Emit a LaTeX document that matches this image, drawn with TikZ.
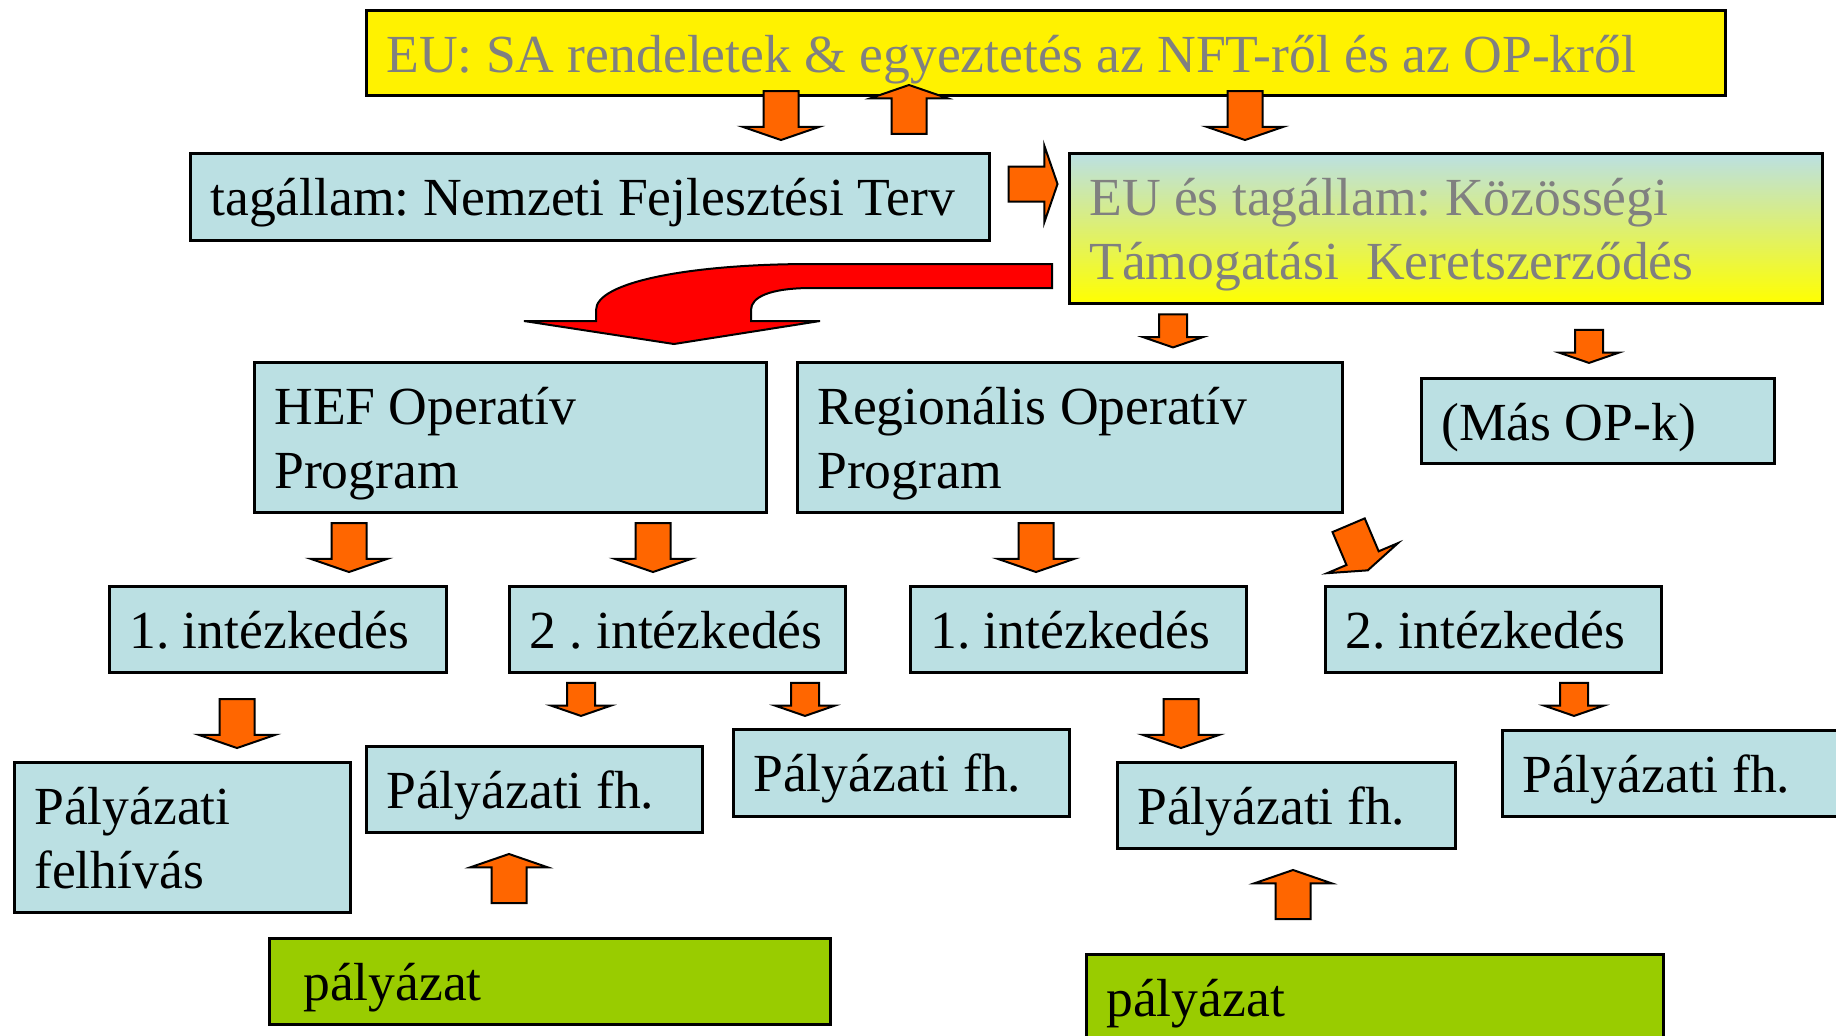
\documentclass[tikz,border=0pt]{standalone}
\usepackage{fontspec}
\setmainfont{Liberation Serif}
\usetikzlibrary{shapes.arrows}

\definecolor{boxblue}{HTML}{BBE0E3}
\definecolor{arrorange}{HTML}{FF6600}
\definecolor{palgreen}{HTML}{99CC00}
\definecolor{eugray}{HTML}{808080}

\tikzset{
	box/.style={draw, line width=1.3pt, fill=boxblue, anchor=north west,
		inner xsep=10pt, inner ysep=0pt, align=flush left, text height=31.25pt,
		font=\fontsize{26.8}{32}\selectfont\frenchspacing},
	bigarr/.style={single arrow, draw, line width=1pt, fill=arrorange,
		inner xsep=0pt, inner ysep=8.25pt,
		minimum height=24.5pt, single arrow head extend=10.5pt,
		single arrow tip angle=142},
	smallarr/.style={bigarr, inner ysep=6.5pt, minimum height=16.5pt,
		single arrow head extend=8pt},
	down/.style={rotate=-90},
	up/.style={rotate=90}
}

\begin{document}
\begin{tikzpicture}[x=0.5pt,y=-0.5pt]
	\useasboundingbox (0,0) rectangle (1836,1035);
	\clip (0,0) rectangle (1836,1035);

	\node[box, fill=yellow, text=eugray, text width=659.5pt, text depth=11.25pt] (eu) at (365,9)
		{EU: SA rendeletek \& egyeztetés az NFT-ről és az OP-kről};
	\node[box, text width=379.5pt, text depth=12.25pt] (nft) at (189,152)
		{tagállam: Nemzeti Fejlesztési Terv};
	\node[box, top color=boxblue, bottom color=yellow, text=eugray, text width=356.5pt, text depth=43.75pt] (kts) at (1068,152)
		{EU és tagállam: Közösségi\\Támogatási\ \ Keretszerződés};
	\node[box, text width=236pt, text depth=43.75pt] (hef) at (253,361) {HEF Operatív\\Program};
	\node[box, text width=252.5pt, text depth=43.75pt] (rop) at (796,361) {Regionális Operatív\\Program};
	\node[box, text width=156.5pt, text depth=11.25pt] (masop) at (1420,377) {(Más OP-k)};

	\node[box, text width=148.5pt, text depth=11.75pt] (int1) at (108,585) {1. intézkedés};
	\node[box, text width=148pt, text depth=11.75pt] (int2) at (508,585) {2 . intézkedés};
	\node[box, text width=148pt, text depth=11.75pt] (int3) at (909,585) {1. intézkedés};
	\node[box, text width=148pt, text depth=11.75pt] (int4) at (1324,585) {2. intézkedés};

	\node[box, text width=148pt, text depth=43.75pt] (pf) at (13,761) {Pályázati\\felhívás};
	\node[box, text width=148pt, text depth=11.75pt] (pfh1) at (365,745) {Pályázati fh.};
	\node[box, text width=148pt, text depth=12.25pt] (pfh2) at (732,728) {Pályázati fh.};
	\node[box, text width=149pt, text depth=11.75pt] (pfh3) at (1116,761) {Pályázati fh.};
	\node[box, text width=148pt, text depth=11.75pt] (pfh4) at (1501,729) {Pályázati fh.};

	\node[box, fill=palgreen, inner xsep=17pt, text width=246.5pt, text depth=11.75pt] (pal1) at (268,937) {pályázat};
	\node[box, fill=palgreen, text width=268.5pt, text depth=13.75pt] (pal2) at (1085,953) {pályázat};

	\node[bigarr, down] (a1) at (781,112.5) {};
	\node[bigarr, up] (a2) at (909,112.5) {};
	\node[bigarr, down] (a3) at (1245,112.5) {};
	\node[bigarr] (a4) at (1030,184) {};
	\node[smallarr, down] (a5) at (1173,328.5) {};
	\node[smallarr, down] (a6) at (1589,344) {};
	\node[bigarr, down] (a7) at (349,544.5) {};
	\node[bigarr, down] (a8) at (653,544.5) {};
	\node[bigarr, down] (a9) at (1036,544.5) {};
	\node[bigarr, rotate=-67] (a10) at (1357,545) {};
	\node[bigarr, down] (a11) at (237,720.5) {};
	\node[smallarr, down] (a12) at (581,697) {};
	\node[smallarr, down] (a13) at (805,697) {};
	\node[bigarr, down] (a14) at (1181,720.5) {};
	\node[smallarr, down] (a15) at (1574,697) {};
	\node[bigarr, up] (a16) at (509,881.5) {};
	\node[bigarr, up] (a17) at (1293,897.5) {};

	\draw[line width=1pt, fill=red] (1052,264) -- (812,264)
		.. controls (690,264) and (596,282) .. (596,310) -- (596,321) -- (524,321)
		-- (674,344) -- (820,321) -- (751,321) -- (751,310)
		.. controls (751,297) and (770,288) .. (812,288) -- (1052,288) -- cycle;
\end{tikzpicture}
\end{document}
